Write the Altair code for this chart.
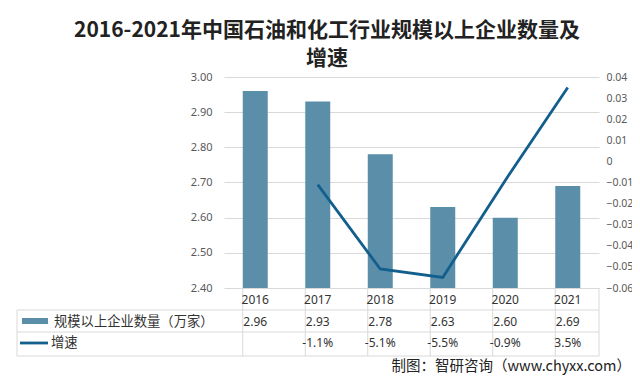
import altair as alt
import pandas as pd

years = ["2016", "2017", "2018", "2019", "2020", "2021"]
counts = [2.96, 2.93, 2.78, 2.63, 2.60, 2.69]
growth = [None, -0.011, -0.051, -0.055, -0.009, 0.035]
growth_labels = ["", "-1.1%", "-5.1%", "-5.5%", "-0.9%", "3.5%"]

title_lines = ["2016-2021年中国石油和化工行业规模以上企业数量及", "增速"]
legend_bar = "规模以上企业数量（万家）"
legend_line = "增速"
footer = "制图：智研咨询（www.chyxx.com）"

BAR = "#5b8ea8"
LINE = "#125f8e"
GRID = "#d9d9d9"
FONT = "Noto Sans CJK SC"
NUMFONT = "Noto Sans"

df = pd.DataFrame({
    "year": years,
    "count": counts,
    "growth": growth,
    "glabel": growth_labels,
    "clabel": [f"{c:.2f}" for c in counts],
})
one = pd.DataFrame({"k": [0]})

W, H = 375, 211
xenc = alt.X("year:N", sort=years, axis=None,
             scale=alt.Scale(paddingInner=0.6, paddingOuter=0.3))

bars = alt.Chart(df).mark_bar(color=BAR, clip=True).encode(
    x=xenc,
    y=alt.Y("count:Q", scale=alt.Scale(domain=[2.4, 3.0], nice=False, zero=False),
            axis=alt.Axis(values=[2.4, 2.5, 2.6, 2.7, 2.8, 2.9, 3.0], format=".2f",
                          title=None, domain=False, ticks=False, labelPadding=12,
                          labelColor="#595959", labelFontSize=11, labelFont=NUMFONT,
                          grid=True, gridColor=GRID)),
)

line = alt.Chart(df).mark_line(color=LINE, strokeWidth=2.8).encode(
    x=xenc,
    y=alt.Y("growth:Q", scale=alt.Scale(domain=[-0.06, 0.04], nice=False, zero=False),
            axis=alt.Axis(orient="right",
                          values=[-0.06, -0.05, -0.04, -0.03, -0.02, -0.01, 0, 0.01, 0.02, 0.03, 0.04],
                          labelExpr="datum.value == 0 ? '0' : format(datum.value, '.2f')",
                          title=None, domain=False, ticks=False, labelPadding=7,
                          labelColor="#595959", labelFontSize=10.5, labelFont=NUMFONT,
                          grid=False)),
)

# table grid
vlines = alt.Chart(df).mark_rule(color=GRID, strokeWidth=1).encode(
    x=alt.X("year:N", sort=years, axis=None, bandPosition=0),
    y=alt.value(H), y2=alt.value(279),
)
rlines = alt.Chart(one).mark_rule(color=GRID, strokeWidth=1).encode(
    x=alt.value(W), y=alt.value(H), y2=alt.value(279))
leftline = alt.Chart(one).mark_rule(color=GRID, strokeWidth=1).encode(
    x=alt.value(-207), y=alt.value(233), y2=alt.value(279))
hl = [alt.Chart(one).mark_rule(color=GRID, strokeWidth=1).encode(
    x=alt.value(-207), x2=alt.value(W), y=alt.value(yy)) for yy in (233, 255, 279)]

txt = dict(fontSize=12, font=NUMFONT, color="#333333", baseline="middle")
year_text = alt.Chart(df).mark_text(**txt).encode(x=xenc, y=alt.value(223), text="year:N")
count_text = alt.Chart(df).mark_text(**txt).encode(x=xenc, y=alt.value(245), text="clabel:N")
growth_text = alt.Chart(df).mark_text(**txt).encode(x=xenc, y=alt.value(266), text="glabel:N")

sw_bar = alt.Chart(one).mark_rect(color=BAR).encode(
    x=alt.value(-202), x2=alt.value(-176), y=alt.value(241), y2=alt.value(247))
sw_line = alt.Chart(one).mark_rule(color=LINE, strokeWidth=2.8).encode(
    x=alt.value(-204), x2=alt.value(-176), y=alt.value(266))
lg1 = alt.Chart(one).mark_text(text=legend_bar, fontSize=13.3, font=FONT, color="#333333",
                               align="left", baseline="middle").encode(
    x=alt.value(-170), y=alt.value(245))
lg2 = alt.Chart(one).mark_text(text=legend_line, fontSize=13.3, font=FONT, color="#333333",
                               align="left", baseline="middle").encode(
    x=alt.value(-173), y=alt.value(266))

t1 = alt.Chart(one).mark_text(text=title_lines[0], fontSize=21, font=FONT, fontWeight="bold",
                              color="#222222", baseline="middle").encode(
    x=alt.value(103), y=alt.value(-46))
t2 = alt.Chart(one).mark_text(text=title_lines[1], fontSize=21, font=FONT, fontWeight="bold",
                              color="#222222", baseline="middle").encode(
    x=alt.value(103), y=alt.value(-18))
ft = alt.Chart(one).mark_text(text=footer, fontSize=14.5, font=FONT, color="#222222",
                              align="right", baseline="middle").encode(
    x=alt.value(407), y=alt.value(290))

main = alt.layer(bars, line).resolve_scale(y="independent")

chart = alt.layer(
    main, vlines, rlines, leftline, *hl, year_text, count_text, growth_text,
    sw_bar, sw_line, lg1, lg2, t1, t2, ft,
).properties(
    width=W, height=H,
    autosize=alt.AutoSizeParams(type="none"),
    padding={"left": 216, "top": 69, "right": 33, "bottom": 88},
    background="white",
).configure_view(stroke=None)

chart.save("out.html", embed_options={"renderer": "svg", "actions": False})
